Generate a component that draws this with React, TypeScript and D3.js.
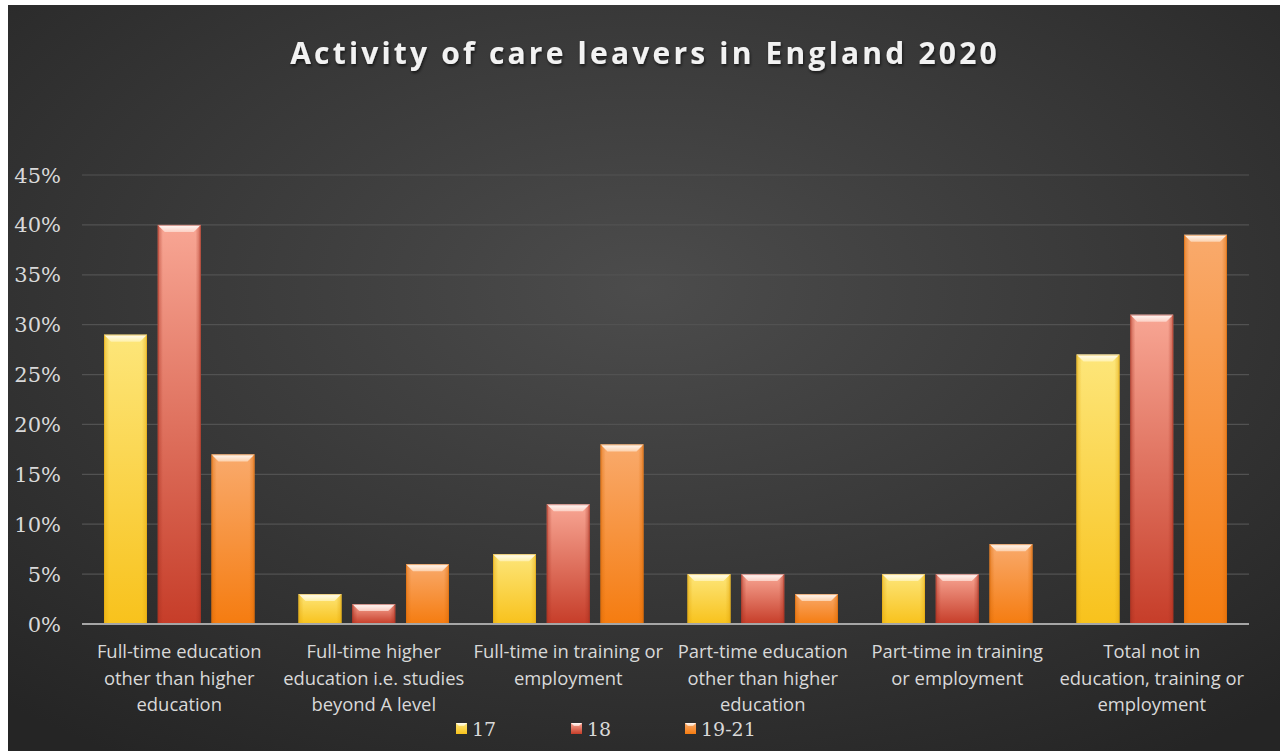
import React from 'react';
import * as d3 from 'd3';

const categories = [
  ['Full-time education', 'other than higher', 'education'],
  ['Full-time higher', 'education i.e. studies', 'beyond A level'],
  ['Full-time in training or', 'employment'],
  ['Part-time education', 'other than higher', 'education'],
  ['Part-time in training', 'or employment'],
  ['Total not in', 'education, training or', 'employment'],
];
const seriesNames = ['17', '18', '19-21'];
const age17 = [29, 3, 7, 5, 5, 27];
const age18 = [40, 2, 12, 5, 5, 31];
const age19to21 = [17, 6, 18, 3, 8, 39];
const yTicks = [0, 5, 10, 15, 20, 25, 30, 35, 40, 45];

const seriesValues = [age17, age18, age19to21];
const palette = [
  { top: '#fde67a', bottom: '#f8c21c', edge: '#e2a810', cap: '#fff3b8' },
  { top: '#f8a694', bottom: '#c63d29', edge: '#a8301f', cap: '#fddcd2' },
  { top: '#f9aa6c', bottom: '#f57c10', edge: '#d96a08', cap: '#fddcc0' },
];

const W = 1280;
const H = 751;
const frame = { x: 8, y: 5 };
const plot = { left: 82, right: 1249, top: 175, bottom: 624 };

export default function App() {
  const x0 = d3
    .scaleBand<number>()
    .domain(categories.map((_, i) => i))
    .range([plot.left, plot.right]);
  const x1 = d3
    .scaleBand<number>()
    .domain(seriesNames.map((_, i) => i))
    .range([22, x0.bandwidth() - 22])
    .paddingInner(0.2);
  const y = d3.scaleLinear().domain([0, 45]).range([plot.bottom, plot.top]);

  const bevel = 7;

  return (
    <div style={{ position: 'absolute', left: 0, top: 0 }}>
      <svg width={W} height={H} style={{ display: 'block' }}>
        <defs>
          <radialGradient id="bg" cx="50%" cy="38%" r="75%">
            <stop offset="0%" stopColor="#4c4c4c" />
            <stop offset="100%" stopColor="#252525" />
          </radialGradient>
          {palette.map((p, i) => (
            <React.Fragment key={i}>
              <linearGradient id={`v${i}`} x1="0" y1="0" x2="0" y2="1">
                <stop offset="0%" stopColor={p.top} />
                <stop offset="100%" stopColor={p.bottom} />
              </linearGradient>
              <linearGradient id={`h${i}`} x1="0" y1="0" x2="1" y2="0">
                <stop offset="0%" stopColor={p.edge} stopOpacity={0.55} />
                <stop offset="12%" stopColor={p.edge} stopOpacity={0} />
                <stop offset="88%" stopColor={p.edge} stopOpacity={0} />
                <stop offset="100%" stopColor={p.edge} stopOpacity={0.55} />
              </linearGradient>
              <linearGradient id={`c${i}`} x1="0" y1="0" x2="0" y2="1">
                <stop offset="0%" stopColor="#ffffff" stopOpacity={0.95} />
                <stop offset="100%" stopColor={p.cap} stopOpacity={0.8} />
              </linearGradient>
            </React.Fragment>
          ))}
          <filter id="tshadow" x="-5%" y="-30%" width="110%" height="160%">
            <feDropShadow dx="1" dy="2" stdDeviation="1.5" floodColor="#000" floodOpacity="0.6" />
          </filter>
        </defs>

        <rect x={0} y={0} width={W} height={H} fill="#ffffff" />
        <rect x={frame.x} y={frame.y} width={W - frame.x} height={H - frame.y} fill="url(#bg)" />

        <text
          x={645}
          y={64}
          textAnchor="middle"
          fill="#f2f2f2"
          fontFamily="'Open Sans', sans-serif"
          fontWeight={700}
          fontSize={30}
          letterSpacing={3.2}
          filter="url(#tshadow)"
        >
          Activity of care leavers in England 2020
        </text>

        {yTicks.map((t) => (
          <g key={t}>
            {t > 0 && (
              <line
                x1={plot.left}
                x2={plot.right}
                y1={y(t)}
                y2={y(t)}
                stroke="#525252"
                strokeWidth={1.2}
              />
            )}
            <text
              x={61}
              y={y(t)}
              dy="0.36em"
              textAnchor="end"
              fill="#d9d9d9"
              fontFamily="'DejaVu Serif', serif"
              fontSize={21}
            >
              {t}%
            </text>
          </g>
        ))}

        {categories.map((_, ci) => (
          <g key={ci} transform={`translate(${x0(ci)},0)`}>
            {seriesValues.map((vals, si) => {
              const bx = x1(si) as number;
              const bw = x1.bandwidth();
              const top = y(vals[ci]);
              const bh = y(0) - top;
              const b = Math.min(bevel, bh / 2);
              return (
                <g key={si}>
                  <rect x={bx} y={top} width={bw} height={bh} fill={`url(#v${si})`} />
                  <rect x={bx} y={top} width={bw} height={bh} fill={`url(#h${si})`} />
                  <polygon
                    points={`${bx},${top} ${bx + bw},${top} ${bx + bw - b},${top + b} ${bx + b},${top + b}`}
                    fill={`url(#c${si})`}
                  />
                  <rect
                    x={bx + 0.5}
                    y={top + 0.5}
                    width={bw - 1}
                    height={bh - 1}
                    fill="none"
                    stroke={palette[si].edge}
                    strokeOpacity={0.5}
                    strokeWidth={1}
                  />
                </g>
              );
            })}
          </g>
        ))}

        <line
          x1={plot.left}
          x2={plot.right}
          y1={y(0)}
          y2={y(0)}
          stroke="#a6a6a6"
          strokeWidth={2}
        />

        {categories.map((lines, ci) => (
          <text
            key={ci}
            x={(x0(ci) as number) + x0.bandwidth() / 2}
            y={658}
            textAnchor="middle"
            fill="#d9d9d9"
            fontFamily="'Open Sans', sans-serif"
            fontSize={18.4}
          >
            {lines.map((l, li) => (
              <tspan key={li} x={(x0(ci) as number) + x0.bandwidth() / 2} dy={li === 0 ? 0 : 26.5}>
                {l}
              </tspan>
            ))}
          </text>
        ))}

        {seriesNames.map((name, si) => {
          const lx = [456, 571, 685][si];
          return (
            <g key={name}>
              <rect x={lx} y={723} width={11} height={11} fill={`url(#v${si})`} />
              <polygon
                points={`${lx},723 ${lx + 11},723 ${lx + 8},726 ${lx + 3},726`}
                fill={`url(#c${si})`}
              />
              <text
                x={lx + 16}
                y={729}
                dy="0.36em"
                fill="#d9d9d9"
                fontFamily="'DejaVu Serif', serif"
                fontSize={19}
              >
                {name}
              </text>
            </g>
          );
        })}
      </svg>
    </div>
  );
}
